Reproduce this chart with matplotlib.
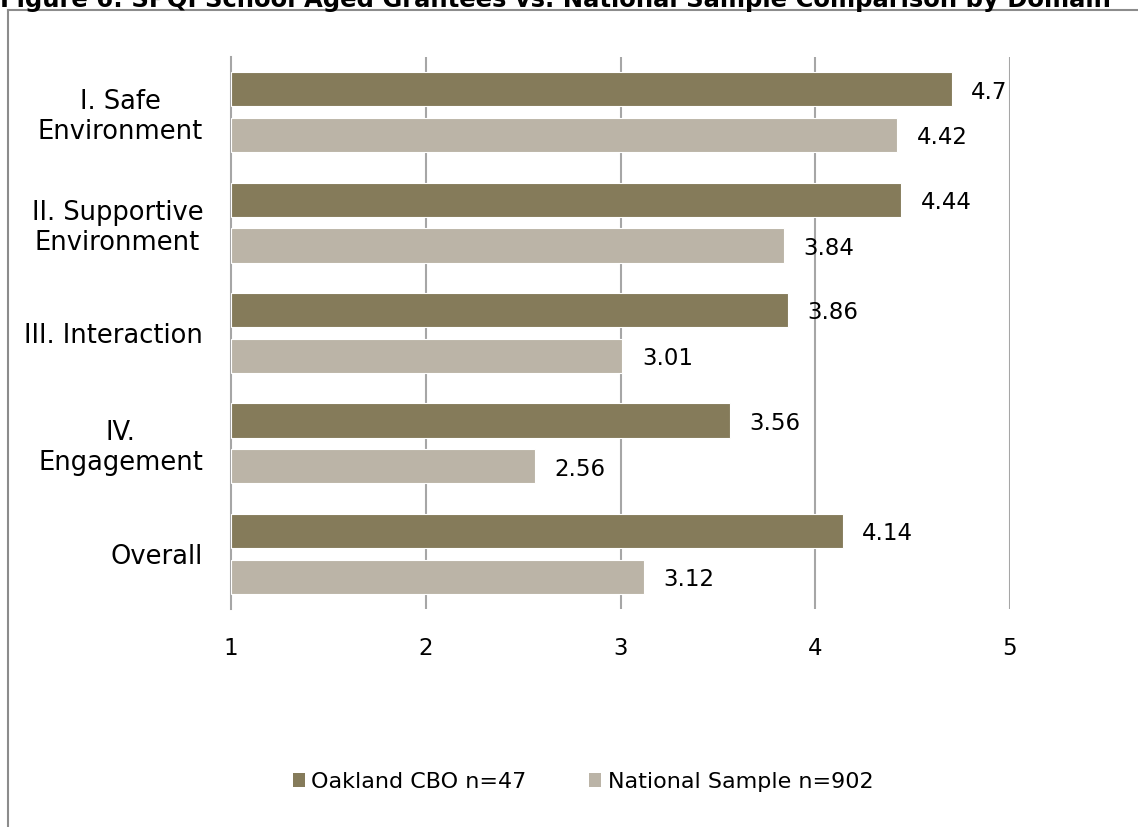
import numpy as np
from matplotlib import pyplot as plt
from matplotlib.lines import Line2D
from matplotlib.patches import Patch

# %% data
domains = ["I. Safe\nEnvironment", "II. Supportive\nEnvironment", "III. Interaction",
           "IV.\nEngagement", "Overall"]
oakland = [4.7, 4.44, 3.86, 3.56, 4.14]
national = [4.42, 3.84, 3.01, 2.56, 3.12]
series_names = ["Oakland CBO n=47", "National Sample n=902"]
x_ticks = [1, 2, 3, 4, 5]

dark = "#857b5a"
light = "#bbb4a7"
grid_col = "#a6a6a6"
font = "DejaVu Sans"

# %% figure
fig = plt.figure(figsize=(11.38, 8.27), dpi=100)
W, H = 1138, 827

# chart frame (only top and left edges show)
fig.add_artist(Line2D([8 / W, 1], [1 - 9.5 / H, 1 - 9.5 / H], transform=fig.transFigure,
                      color="#8c8c8c", lw=1.5))
fig.add_artist(Line2D([8 / W, 8 / W], [0, 1 - 9.5 / H], transform=fig.transFigure,
                      color="#8c8c8c", lw=1.5))

fig.text(0.0, 1 - 7 / H, "Figure 6: SPQI School Aged Grantees vs. National Sample Comparison by Domain",
         fontsize=17.5, fontweight="bold", ha="left", va="baseline", family="DejaVu Sans")

ax = fig.add_axes([231 / W, 1 - 609 / H, (1010 - 231) / W, (609 - 57) / H])

y = np.arange(len(domains))
off = 0.207
h = 0.31
b1 = ax.barh(y - off, [v - 1 for v in oakland], left=1, height=h, color=dark,
             edgecolor="white", linewidth=0.8, zorder=3)
b2 = ax.barh(y + off, [v - 1 for v in national], left=1, height=h, color=light,
             edgecolor="white", linewidth=0.8, zorder=3)

for bars, vals in [(b1, oakland), (b2, national)]:
    for bar, v in zip(bars, vals):
        ax.annotate(f"{v:g}", (v, bar.get_y() + bar.get_height() / 2),
                    xytext=(14, -2), textcoords="offset points",
                    ha="left", va="center", fontsize=16.5, family=font, zorder=4)

ax.set_xlim(1, 5)
ax.set_ylim(len(domains) - 0.5, -0.5)
ax.set_xticks(x_ticks)
ax.set_xticklabels([str(t) for t in x_ticks], fontsize=16.5, family=font)
ax.set_yticks(y)
ax.set_yticklabels(domains, fontsize=18.5, family=font, multialignment="center")
ax.tick_params(axis="both", length=0)
ax.tick_params(axis="x", pad=20)
ax.tick_params(axis="y", pad=20)

for t in x_ticks[1:]:
    ax.axvline(t, color=grid_col, lw=1.5, zorder=1)
for s in ["top", "right", "bottom"]:
    ax.spines[s].set_visible(False)
ax.spines["left"].set_color(grid_col)
ax.spines["left"].set_linewidth(1.5)

legend_handles = [Patch(facecolor=dark, label=series_names[0]),
                  Patch(facecolor=light, label=series_names[1])]
fig.legend(handles=legend_handles, loc="center", bbox_to_anchor=(583 / W, 1 - 782 / H),
           ncol=2, frameon=False, prop={"family": font, "size": 16},
           handlelength=0.55, handleheight=0.55, handletextpad=0.3, columnspacing=2.8)

fig.savefig("out.png", dpi=100)
